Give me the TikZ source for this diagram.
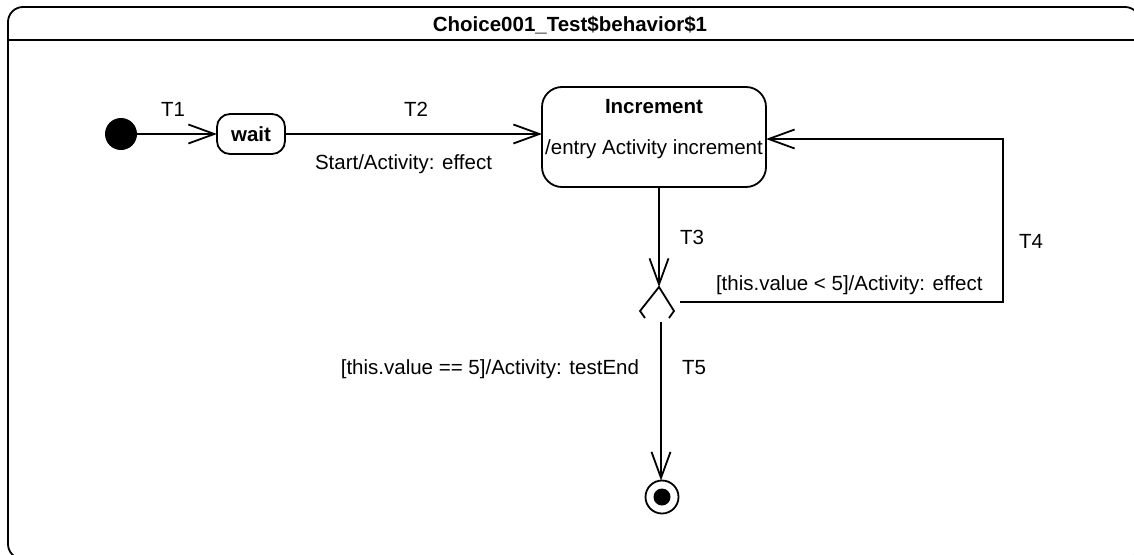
\documentclass[tikz,border=0pt]{standalone}
\usepackage{fontspec}
\setmainfont{Liberation Sans}
\usetikzlibrary{arrows.meta}
\newcommand{\labfont}{\fontsize{20.5pt}{24pt}\selectfont}
\tikzset{
  every node/.style={font=\labfont, inner sep=0pt, outer sep=0pt},
  conn/.style={line width=1.8pt, -{Straight Barb[length=26pt,width=19pt]}},
  plainline/.style={line width=1.8pt},
  statebox/.style={draw, line width=1.8pt, rounded corners=#1},
  lbl/.style={anchor=base},
}
\begin{document}
\begin{tikzpicture}[x=1pt,y=-1pt]
\useasboundingbox (0,0) rectangle (1134,554);
\clip (0,0) rectangle (1134,554);
% frame
\draw[line width=1.8pt, rounded corners=15pt] (8,7) rectangle (1140,559);
\coordinate (sepL) at (8,40);
\coordinate (sepR) at (1140,40);
\draw[plainline] (sepL) -- (sepR);
\node[lbl, font=\labfont\bfseries] (title) at (570,31) {Choice001\_Test\$behavior\$1};

% initial
\node[circle, fill=black, minimum size=32pt] (init) at (121,134) {};
% wait
\draw[statebox=13pt] (217,114) rectangle (285,154);
\node[minimum width=68pt, minimum height=40pt] (wait) at (251,134) {};
\node[lbl, font=\labfont\bfseries] (waittxt) at (251,141) {wait};
% Increment
\draw[statebox=20pt] (542,87) rectangle (766,187);
\node[minimum width=224pt, minimum height=100pt] (inc) at (654,137) {};
\node[lbl, font=\labfont\bfseries] (inctitle) at (654,113) {Increment};
\node[lbl] (incentry) at (654,154) {/entry Activity increment};

% choice
\coordinate (chtop) at (659,287);
\coordinate (chleft) at (640,311);
\coordinate (chright) at (674,311);
\draw[line width=1.8pt, line join=miter] (645,318) -- (chleft) -- (chtop) -- (chright) -- (669,318);
\coordinate (chout) at (680,302);
\coordinate (chbot) at (661,322);

% final
\node[circle, draw, line width=1.8pt, minimum size=33pt] (final) at (662,497) {};
\node[circle, fill=black, minimum size=17pt] (finaldot) at (662,497) {};

% transitions
\draw[conn] (init.east) -- (wait.west);
\node[lbl] (t1) at (173,116) {T1};

\draw[conn] (wait.east) -- (inc.west |- wait.east);
\node[lbl] (t2) at (416,116) {T2};
\node[anchor=base west] (t2e) at (315,169) {Start/Activity: effect};

\draw[conn] (inc.south -| chtop) -- (chtop);
\node[lbl] (t3) at (692,244) {T3};

\coordinate (t4a) at (1003,302);
\coordinate (t4b) at (1003,139);
\draw[conn] (chout) -- (t4a) -- (t4b) -- (inc.east |- t4b);
\node[lbl] (t4) at (1031,248) {T4};
\node[anchor=base west] (t4e) at (716,290) {[this.value < 5]/Activity: effect};

\draw[conn] (chbot) -- (final.north -| chbot);
\node[lbl] (t5) at (694,374) {T5};
\node[anchor=base east] (t5e) at (639,374) {[this.value == 5]/Activity: testEnd};
\end{tikzpicture}
\end{document}
